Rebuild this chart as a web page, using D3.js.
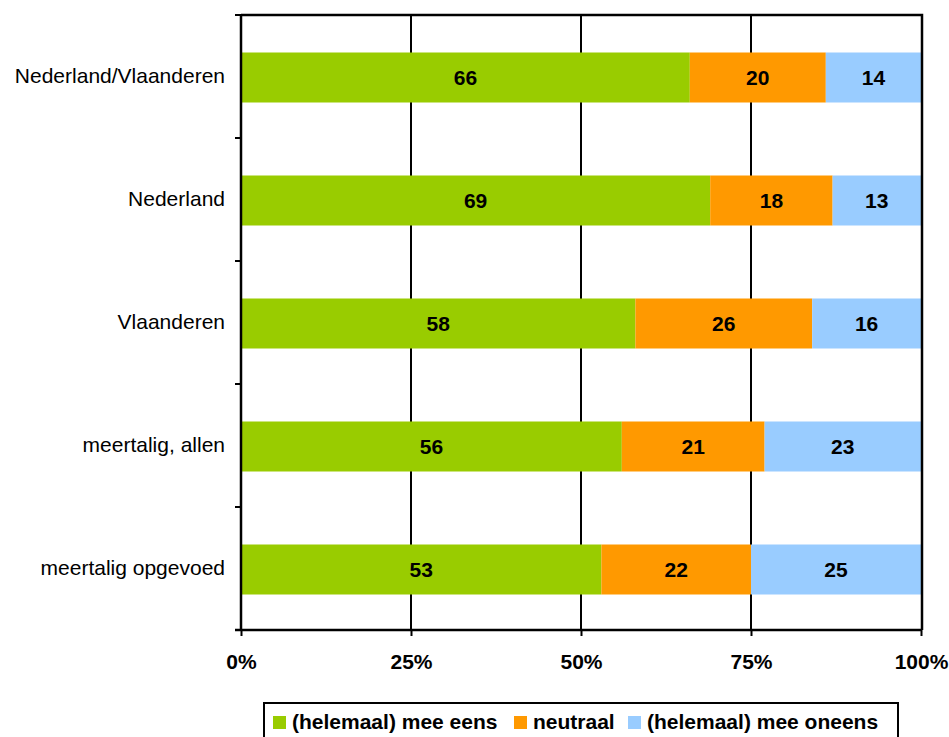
<!DOCTYPE html>
<html><head><meta charset="utf-8">
<script src="https://cdn.jsdelivr.net/npm/d3@7"></script>
<style>body{margin:0;background:#fff}svg{display:block}</style>
</head><body>
<svg id="c" width="949" height="737"></svg>
<script>
const categories = ["Nederland/Vlaanderen","Nederland","Vlaanderen","meertalig, allen","meertalig opgevoed"];
const seriesNames = ["(helemaal) mee eens","neutraal","(helemaal) mee oneens"];
const eens = [66,69,58,56,53];
const neutraal = [20,18,26,21,22];
const oneens = [14,13,16,23,25];
const tickLabels = ["0%","25%","50%","75%","100%"];
const colors = ["#99CC00","#FF9900","#99CCFF"];

const svg = d3.select("#c");
const L=241, R=921, T=15, B=630;
const x = d3.scaleLinear().domain([0,100]).range([L,R]);
const y = d3.scaleBand().domain(categories).range([T,B]);
const barH = 50;
const font = "Liberation Sans, Arial, sans-serif";
const FS = 21;

const series = [eens, neutraal, oneens];
const rows = categories.map((c,i)=>{
  let acc=0;
  return series.map((s,k)=>{const d={cat:c,k,v:s[i],x0:acc,x1:acc+s[i]};acc+=s[i];return d;});
});

// grid lines (behind bars)
const ticks=[0,25,50,75,100];
svg.selectAll(null).data([25,50,75]).enter().append("line")
  .attr("x1",d=>x(d)).attr("x2",d=>x(d)).attr("y1",T).attr("y2",B)
  .attr("stroke","#000").attr("stroke-width",2);

// bars
const g = svg.append("g");
rows.forEach(r=>{
  g.selectAll(null).data(r).enter().append("rect")
    .attr("x",d=>x(d.x0)).attr("width",d=>x(d.x1)-x(d.x0))
    .attr("y",d=>y(d.cat)+y.bandwidth()/2-barH/2+1).attr("height",barH)
    .attr("fill",d=>colors[d.k]);
  g.selectAll(null).data(r).enter().append("text")
    .attr("x",d=>(x(d.x0)+x(d.x1))/2)
    .attr("y",d=>y(d.cat)+y.bandwidth()/2+1)
    .attr("dy","0.36em").attr("text-anchor","middle")
    .attr("font-family",font).attr("font-weight","bold").attr("font-size",FS)
    .text(d=>d.v);
});

// top and right border
svg.append("path").attr("d",`M${L},${T}H${R+1}V${B}`).attr("fill","none").attr("stroke","#000").attr("stroke-width",2.5);

// x axis
const xa = svg.append("g").attr("transform",`translate(0,${B})`)
  .call(d3.axisBottom(x).tickValues(ticks).tickSize(6).tickSizeOuter(0).tickFormat((d,i)=>tickLabels[i]));
xa.select(".domain").attr("stroke-width",2.5).attr("d",`M${L-6},0H${R+1}`);
xa.selectAll(".tick line").attr("stroke-width",2);
xa.selectAll(".tick text").attr("font-family",font).attr("font-weight","bold").attr("font-size",FS).attr("fill","#000").attr("y",24);

// y axis
const ya = svg.append("g").attr("transform",`translate(${L},0)`)
  .call(d3.axisLeft(y).tickSize(0).tickPadding(16));
ya.select(".domain").attr("stroke-width",2.5).attr("d",`M0,${T}V${B}`);
ya.selectAll(".tick text").attr("font-family",font).attr("font-size",FS).attr("fill","#000");
// boundary ticks
const bounds = categories.map(c=>y(c)).concat([B]);
svg.selectAll(null).data(bounds).enter().append("line")
  .attr("x1",L-6).attr("x2",L).attr("y1",d=>d).attr("y2",d=>d)
  .attr("stroke","#000").attr("stroke-width",2);

// legend
const lg = svg.append("g");
lg.append("rect").attr("x",264).attr("y",703).attr("width",634).attr("height",40)
  .attr("fill","#fff").attr("stroke","#000").attr("stroke-width",2);
const lx=[273,514,628];
seriesNames.forEach((n,i)=>{
  lg.append("rect").attr("x",lx[i]).attr("y",716).attr("width",13).attr("height",13).attr("fill",colors[i]);
  lg.append("text").attr("x",lx[i]+19).attr("y",729).attr("font-family",font).attr("font-weight","bold").attr("font-size",FS).text(n);
});
</script>
</body></html>
